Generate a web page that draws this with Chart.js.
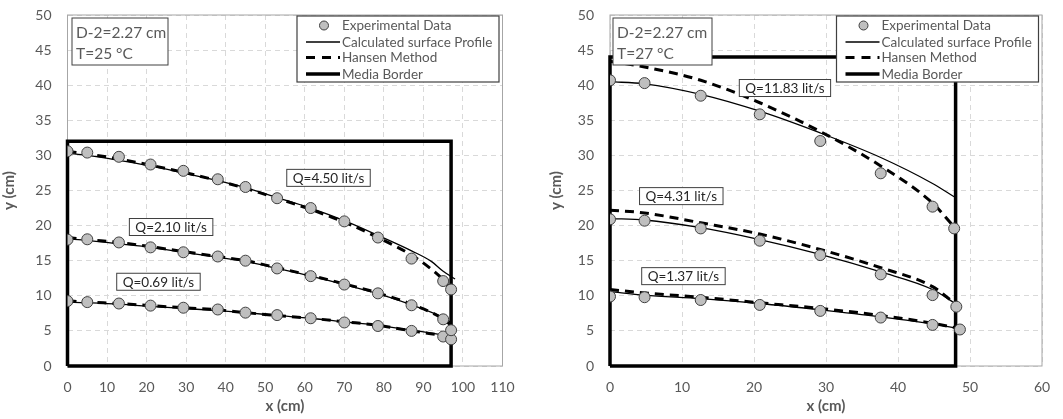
<!DOCTYPE html>
<html>
<head>
<meta charset="utf-8">
<script src="https://cdn.jsdelivr.net/npm/chart.js@4.4.1/dist/chart.umd.min.js"></script>
<style>
  body { margin: 0; background: #fff; }
  .box { position: absolute; top: 0; }
</style>
</head>
<body>
<div class="box" style="left:0"><canvas id="chartLeft" width="530" height="419"></canvas></div>
<div class="box" style="left:530px"><canvas id="chartRight" width="533" height="419"></canvas></div>
<script>
// ---- left chart, T=25 C ----
const xExpL = [0, 5, 13, 21, 29.3, 38, 45, 53, 61.5, 70, 78.5, 87, 95, 97];
const yExpL450 = [30.6, 30.4, 29.8, 28.7, 27.8, 26.6, 25.5, 23.9, 22.5, 20.6, 18.3, 15.3, 12.1, 10.9];
const yExpL210 = [18.0, 18.05, 17.6, 16.9, 16.2, 15.6, 15.0, 13.9, 12.8, 11.6, 10.35, 8.65, 6.65, 5.1];
const yExpL069 = [9.25, 9.1, 8.9, 8.6, 8.3, 8.05, 7.6, 7.25, 6.8, 6.2, 5.7, 5.0, 4.2, 3.8];

const xCalcL450 = [0, 5, 13, 21, 29.3, 38, 45, 53, 61.5, 70, 78.5, 87, 92, 95, 98];
const yCalcL450 = [30.3, 30.0, 29.3, 28.5, 27.5, 26.4, 25.4, 24.0, 22.5, 20.7, 18.6, 16.4, 14.9, 13.5, 12.4];
const xHanL450 = [0, 5, 13, 21, 29.3, 38, 45, 53, 61.5, 70, 78.5, 87, 92, 95, 97];
const yHanL450 = [30.6, 30.2, 29.5, 28.6, 27.6, 26.4, 25.3, 23.9, 22.3, 20.5, 18.3, 15.8, 13.8, 12.3, 11.0];
const xLineL = [0, 5, 13, 21, 29.3, 38, 45, 53, 61.5, 70, 78.5, 87, 95, 97];
const yCalcL210 = [18.1, 17.9, 17.4, 16.9, 16.2, 15.5, 14.9, 13.9, 12.8, 11.6, 10.3, 8.7, 6.9, 6.2];
const yHanL210 = [18.3, 18.0, 17.6, 17.0, 16.3, 15.6, 15.0, 14.0, 12.9, 11.7, 10.4, 8.8, 6.7, 5.8];
const yCalcL069 = [9.1, 9.0, 8.8, 8.5, 8.2, 7.9, 7.6, 7.2, 6.8, 6.3, 5.8, 5.1, 4.4, 4.2];
const yHanL069 = [9.3, 9.1, 8.9, 8.6, 8.3, 8.0, 7.6, 7.2, 6.8, 6.3, 5.8, 5.0, 4.3, 4.0];

const xBorderL = [0, 0, 97, 97, 0];
const yBorderL = [0, 32, 32, 0, 0];

// ---- right chart, T=27 C ----
const xExpR1183 = [0, 4.8, 12.6, 20.8, 29.2, 37.6, 44.8, 47.8];
const yExpR1183 = [40.7, 40.3, 38.5, 35.85, 32.05, 27.45, 22.7, 19.6];
const xExpR431 = [0, 4.8, 12.6, 20.8, 29.2, 37.6, 44.8, 48.1];
const yExpR431 = [20.9, 20.7, 19.6, 17.85, 15.8, 13.05, 10.1, 8.45];
const xExpR137 = [0, 4.8, 12.6, 20.8, 29.2, 37.6, 44.8, 48.6];
const yExpR137 = [9.9, 9.8, 9.4, 8.7, 7.85, 6.9, 5.85, 5.2];

const xLineR = [0, 4.8, 12.6, 20.8, 29.2, 37.6, 44.8, 47.8];
const yCalcR1183 = [40.5, 40.2, 38.7, 36.3, 33.2, 29.7, 26.0, 24.1];
const yHanR1183 = [43.4, 42.6, 40.7, 37.5, 33.4, 28.5, 23.2, 19.8];
const yCalcR431 = [21.0, 20.8, 19.7, 18.0, 15.9, 13.4, 10.9, 9.0];
const yHanR431 = [22.2, 21.8, 20.4, 18.8, 16.6, 14.0, 11.3, 9.0];
const xLineR137 = [0, 4.8, 12.6, 20.8, 29.2, 37.6, 44.8, 48.6];
const yCalcR137 = [10.6, 10.1, 9.6, 8.9, 8.0, 7.0, 6.0, 5.3];
const yHanR137 = [10.9, 10.4, 9.8, 9.0, 8.2, 7.2, 6.1, 5.5];

const xBorderR = [0, 0, 48, 48, 0];
const yBorderR = [0, 44, 44, 0, 0];

const xTicksStep = 10;
const yTicksStep = 5;
const legendLabels = ['Experimental Data', 'Calculated surface Profile', 'Hansen Method', 'Media Border'];

const FONT = 'Lato, "Noto Sans", sans-serif';
const GREY = '#595959';

function pts(xs, ys) {
  return xs.map((x, i) => ({ x: x, y: ys[i] }));
}

function expSet(xs, ys) {
  return {
    data: pts(xs, ys), showLine: false, order: 0,
    pointRadius: 5.5, pointBackgroundColor: '#bfbfbf',
    pointBorderColor: '#404040', pointBorderWidth: 1
  };
}

function calcSet(xs, ys) {
  return {
    data: pts(xs, ys), showLine: true, order: 1, pointRadius: 0,
    borderColor: '#000', borderWidth: 1.3, cubicInterpolationMode: 'monotone'
  };
}

function hanSet(xs, ys) {
  return {
    data: pts(xs, ys), showLine: true, order: 2, pointRadius: 0,
    borderColor: '#000', borderWidth: 3, borderDash: [9, 6], cubicInterpolationMode: 'monotone'
  };
}

function borderSet(xs, ys) {
  return {
    data: pts(xs, ys), showLine: true, order: 3, pointRadius: 0,
    borderColor: '#000', borderWidth: 3.5, tension: 0, clip: 4
  };
}

// grey frame round the plot area
const framePlugin = {
  id: 'frame',
  beforeDatasetsDraw(chart) {
    const a = chart.chartArea;
    const ctx = chart.ctx;
    ctx.save();
    ctx.strokeStyle = '#a6a6a6';
    ctx.lineWidth = 1;
    ctx.strokeRect(a.left, a.top, a.right - a.left, a.bottom - a.top);
    ctx.restore();
  }
};

// labels, info box and legend
const notesPlugin = {
  id: 'notes',
  afterDatasetsDraw(chart, args, opts) {
    const ctx = chart.ctx;
    const a = chart.chartArea;
    const xs = chart.scales.x, ys = chart.scales.y;
    ctx.save();

    // Q labels
    ctx.font = '13.5px ' + FONT;
    ctx.textAlign = 'center';
    ctx.textBaseline = 'middle';
    opts.qLabels.forEach(q => {
      const px = xs.getPixelForValue(q.x), py = ys.getPixelForValue(q.y);
      const w = ctx.measureText(q.text).width + 12;
      ctx.fillStyle = '#fff';
      ctx.fillRect(px - w / 2, py - 8.5, w, 17);
      ctx.strokeStyle = '#404040';
      ctx.lineWidth = 1;
      ctx.strokeRect(px - w / 2, py - 8.5, w, 17);
      ctx.fillStyle = '#262626';
      ctx.fillText(q.text, px, py + 0.5);
    });

    // info box
    const bx = a.left + opts.infoDx, by = a.top + 3;
    ctx.fillStyle = '#fff';
    ctx.fillRect(bx, by, opts.infoW, 47);
    ctx.strokeStyle = '#404040';
    ctx.strokeRect(bx, by, opts.infoW, 47);
    ctx.fillStyle = GREY;
    ctx.font = '15.5px ' + FONT;
    ctx.textAlign = 'left';
    opts.info.forEach((t, i) => ctx.fillText(t, bx + 4, by + 15 + i * 21));

    // legend
    const lw = 202, lh = 66;
    const lx = a.right - 3.5 - lw, ly = a.top + 1;
    ctx.fillStyle = '#fff';
    ctx.fillRect(lx, ly, lw, lh);
    ctx.strokeStyle = '#404040';
    ctx.lineWidth = 1.2;
    ctx.strokeRect(lx, ly, lw, lh);
    const rows = [9.5, 26, 41.5, 58];
    ctx.font = '13.5px ' + FONT;
    legendLabels.forEach((t, i) => {
      const cy = ly + rows[i];
      ctx.strokeStyle = '#000';
      ctx.setLineDash([]);
      if (i === 0) {
        ctx.beginPath();
        ctx.arc(lx + 27, cy, 4.5, 0, Math.PI * 2);
        ctx.fillStyle = '#bfbfbf';
        ctx.fill();
        ctx.lineWidth = 1;
        ctx.strokeStyle = '#404040';
        ctx.stroke();
      } else {
        ctx.lineWidth = [0, 1.3, 3, 3.5][i];
        if (i === 2) ctx.setLineDash([9, 7]);
        ctx.beginPath();
        ctx.moveTo(lx + 9, cy);
        ctx.lineTo(lx + 43, cy);
        ctx.stroke();
        ctx.setLineDash([]);
      }
      ctx.fillStyle = GREY;
      ctx.fillText(t, lx + 45, cy + 0.5);
    });
    ctx.restore();
  }
};

function makeChart(id, datasets, xMax, yWidth, pad, notes) {
  return new Chart(document.getElementById(id), {
    type: 'scatter',
    data: { datasets: datasets },
    options: {
      responsive: false,
      animation: false,
      devicePixelRatio: 1,
      layout: { padding: pad },
      plugins: {
        legend: { display: false },
        tooltip: { enabled: false },
        notes: notes
      },
      scales: {
        x: {
          type: 'linear', min: 0, max: xMax,
          ticks: { stepSize: xTicksStep, color: GREY, font: { family: FONT, size: 14 }, padding: 13 },
          grid: { color: '#d9d9d9', drawTicks: false },
          border: { display: false, dash: [5, 4] },
          title: { display: true, text: 'x (cm)', color: GREY, font: { family: FONT, size: 15, weight: 'bold' }, padding: { top: 2 } },
          afterFit: s => { s.height = 53; s.paddingLeft = 0; s.paddingRight = 0; }
        },
        y: {
          type: 'linear', min: 0, max: 50,
          ticks: { stepSize: yTicksStep, color: GREY, font: { family: FONT, size: 14 }, padding: 16 },
          grid: { color: '#d9d9d9', drawTicks: false },
          border: { display: false, dash: [5, 4] },
          title: { display: true, text: 'y (cm)', color: GREY, font: { family: FONT, size: 15, weight: 'bold' }, padding: { top: 0, bottom: 2 } },
          afterFit: s => { s.width = yWidth; s.paddingTop = 0; s.paddingBottom = 0; }
        }
      }
    },
    plugins: [framePlugin, notesPlugin]
  });
}

makeChart('chartLeft', [
  expSet(xExpL, yExpL450), expSet(xExpL, yExpL210), expSet(xExpL, yExpL069),
  calcSet(xCalcL450, yCalcL450), calcSet(xLineL, yCalcL210), calcSet(xLineL, yCalcL069),
  hanSet(xHanL450, yHanL450), hanSet(xLineL, yHanL210), hanSet(xLineL, yHanL069),
  borderSet(xBorderL, yBorderL)
], 110, 67.5, { top: 15, right: 27.5, left: 0, bottom: 0 }, {
  qLabels: [
    { x: 66, y: 26.8, text: 'Q=4.50 lit/s' },
    { x: 26.2, y: 19.8, text: 'Q=2.10 lit/s' },
    { x: 23, y: 12.0, text: 'Q=0.69 lit/s' }
  ],
  info: ['D-2=2.27 cm', 'T=25 °C'],
  infoDx: 4.5, infoW: 96
});

makeChart('chartRight', [
  expSet(xExpR1183, yExpR1183), expSet(xExpR431, yExpR431), expSet(xExpR137, yExpR137),
  calcSet(xLineR, yCalcR1183), calcSet(xLineR, yCalcR431), calcSet(xLineR137, yCalcR137),
  hanSet(xLineR, yHanR1183), hanSet(xLineR, yHanR431), hanSet(xLineR, yHanR137),
  borderSet(xBorderR, yBorderR)
], 60, 63, { top: 15, right: 21, left: 17, bottom: 0 }, {
  qLabels: [
    { x: 24.3, y: 39.6, text: 'Q=11.83 lit/s' },
    { x: 9.9, y: 24.2, text: 'Q=4.31 lit/s' },
    { x: 10.2, y: 12.8, text: 'Q=1.37 lit/s' }
  ],
  info: ['D-2=2.27 cm', 'T=27 °C'],
  infoDx: 3, infoW: 99
});
</script>
</body>
</html>
